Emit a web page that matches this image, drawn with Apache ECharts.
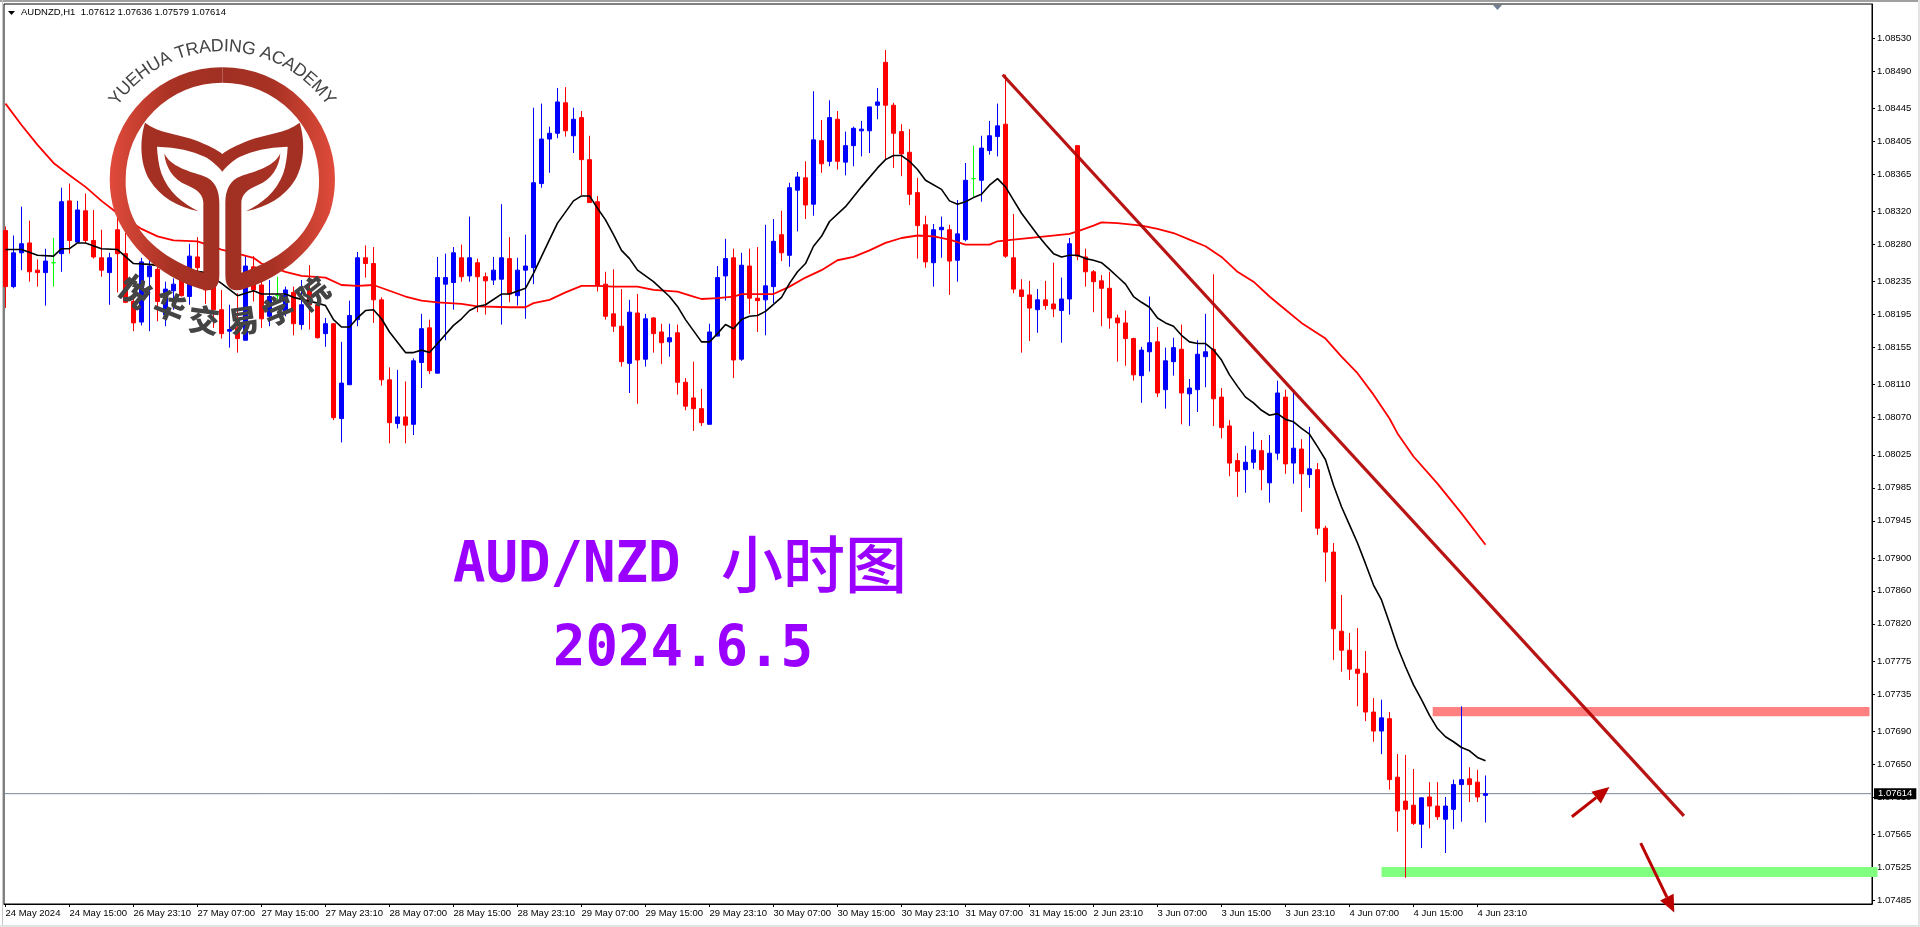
<!DOCTYPE html>
<html>
<head>
<meta charset="utf-8">
<title>AUDNZD H1</title>
<script src="https://cdn.jsdelivr.net/npm/echarts@6/dist/echarts.min.js"></script>
<style>
  html,body{margin:0;padding:0;background:#fff}
  #main{width:1920px;height:927px}
</style>
</head>
<body>
<div id="main"></div>
<script>
const opens=[1.08297,1.08229,1.08270,1.08282,1.08249,1.08246,1.08258,1.08269,1.08333,1.08283,
1.08321,1.08285,1.08264,1.08246,1.08298,1.08269,1.08211,1.08186,1.08241,1.08250,
1.08195,1.08224,1.08241,1.08217,1.08265,1.08235,1.08229,1.08201,1.08175,1.08179,
1.08164,1.08253,1.08231,1.08193,1.08218,1.08199,1.08222,1.08183,1.08225,1.08207,
1.08172,1.08184,1.08069,1.08110,1.08189,1.08264,1.08257,1.08213,1.08116,1.08063,
1.08071,1.08062,1.08137,1.08179,1.08124,1.08232,1.08234,1.08264,1.08242,1.08258,
1.08241,1.08237,1.08238,1.08263,1.08218,1.08249,1.08252,1.08354,1.08408,1.08415,
1.08452,1.08412,1.08434,1.08383,1.08332,1.08232,1.08196,1.08181,1.08136,1.08197,
1.08141,1.08191,1.08174,1.08162,1.08173,1.08113,1.08094,1.08081,1.08062,1.08169,
1.08242,1.08264,1.08141,1.08254,1.08215,1.08213,1.08229,1.08292,1.08267,1.08346,
1.08361,1.08329,1.08406,1.08381,1.08432,1.08380,1.08400,1.08418,1.08418,1.08449,
1.08501,1.08449,1.08417,1.08392,1.08343,1.08304,1.08258,1.08298,1.08298,1.08261,
1.08286,1.08360,1.08358,1.08394,1.08411,1.08426,1.08264,1.08225,1.08219,1.08201,
1.08213,1.08208,1.08200,1.08214,1.08400,1.08265,1.08247,1.08236,1.08227,1.08191,
1.08185,1.08166,1.08121,1.08150,1.08162,1.08104,1.08138,1.08153,1.08099,1.08104,
1.08144,1.08153,1.08095,1.08060,1.08018,1.08007,1.08016,1.08030,1.07991,1.08027,
1.08095,1.08015,1.08032,1.08001,1.08007,1.07936,1.07907,1.07811,1.07788,1.07765,
1.07760,1.07713,1.07690,1.07705,1.07634,1.07605,1.07600,1.07577,1.07610,1.07599,
1.07583,1.07595,1.07625,1.07632,1.07628,1.07612];
const closes=[1.08229,1.08270,1.08281,1.08247,1.08246,1.08260,1.08258,1.08332,1.08285,1.08322,
1.08285,1.08265,1.08249,1.08264,1.08269,1.08210,1.08185,1.08259,1.08254,1.08211,
1.08226,1.08232,1.08218,1.08266,1.08252,1.08225,1.08201,1.08172,1.08177,1.08166,
1.08254,1.08225,1.08190,1.08217,1.08218,1.08225,1.08184,1.08207,1.08207,1.08167,
1.08184,1.08070,1.08112,1.08194,1.08264,1.08257,1.08213,1.08116,1.08064,1.08071,
1.08061,1.08139,1.08178,1.08127,1.08240,1.08240,1.08270,1.08241,1.08264,1.08241,
1.08236,1.08249,1.08264,1.08220,1.08249,1.08254,1.08355,1.08408,1.08415,1.08453,
1.08418,1.08432,1.08383,1.08331,1.08230,1.08193,1.08181,1.08138,1.08198,1.08140,
1.08190,1.08172,1.08161,1.08167,1.08113,1.08084,1.08081,1.08064,1.08174,1.08240,
1.08263,1.08140,1.08255,1.08215,1.08212,1.08230,1.08284,1.08270,1.08349,1.08362,
1.08328,1.08407,1.08378,1.08434,1.08381,1.08400,1.08421,1.08420,1.08447,1.08453,
1.08449,1.08415,1.08390,1.08341,1.08303,1.08259,1.08298,1.08301,1.08260,1.08293,
1.08358,1.08360,1.08397,1.08412,1.08424,1.08266,1.08226,1.08217,1.08203,1.08213,
1.08206,1.08202,1.08214,1.08281,1.08266,1.08247,1.08235,1.08227,1.08191,1.08185,
1.08166,1.08122,1.08152,1.08161,1.08100,1.08139,1.08155,1.08100,1.08106,1.08147,
1.08150,1.08093,1.08058,1.08015,1.08005,1.08016,1.08031,1.08007,1.08027,1.08100,
1.08014,1.08033,1.08002,1.08008,1.07936,1.07907,1.07814,1.07788,1.07765,1.07760,
1.07713,1.07690,1.07706,1.07631,1.07593,1.07595,1.07578,1.07609,1.07599,1.07586,
1.07599,1.07625,1.07631,1.07625,1.07610,1.07614];
const highs=[1.08302,1.08291,1.08326,1.08309,1.08262,1.08275,1.08288,1.08349,1.08354,1.08333,
1.08342,1.08322,1.08298,1.08270,1.08318,1.08294,1.08220,1.08264,1.08262,1.08274,
1.08235,1.08239,1.08254,1.08281,1.08289,1.08245,1.08245,1.08225,1.08207,1.08221,
1.08266,1.08266,1.08254,1.08237,1.08241,1.08229,1.08229,1.08237,1.08255,1.08223,
1.08191,1.08185,1.08162,1.08212,1.08271,1.08279,1.08277,1.08216,1.08131,1.08128,
1.08114,1.08142,1.08196,1.08189,1.08265,1.08269,1.08277,1.08280,1.08314,1.08263,
1.08246,1.08265,1.08329,1.08289,1.08264,1.08292,1.08446,1.08451,1.08423,1.08470,
1.08471,1.08446,1.08442,1.08412,1.08339,1.08247,1.08250,1.08226,1.08213,1.08220,
1.08196,1.08192,1.08184,1.08184,1.08183,1.08118,1.08138,1.08105,1.08184,1.08254,
1.08287,1.08275,1.08270,1.08275,1.08277,1.08304,1.08311,1.08321,1.08355,1.08368,
1.08381,1.08466,1.08431,1.08455,1.08442,1.08417,1.08423,1.08430,1.08447,1.08470,
1.08516,1.08452,1.08426,1.08420,1.08361,1.08315,1.08305,1.08314,1.08304,1.08334,
1.08379,1.08400,1.08412,1.08430,1.08451,1.08486,1.08317,1.08238,1.08236,1.08226,
1.08236,1.08258,1.08240,1.08288,1.08400,1.08275,1.08249,1.08243,1.08247,1.08195,
1.08200,1.08167,1.08156,1.08217,1.08180,1.08155,1.08167,1.08183,1.08117,1.08164,
1.08196,1.08244,1.08106,1.08067,1.08027,1.08036,1.08053,1.08043,1.08049,1.08115,
1.08104,1.08102,1.08044,1.08059,1.08015,1.07939,1.07918,1.07855,1.07809,1.07815,
1.07787,1.07730,1.07728,1.07713,1.07662,1.07661,1.07644,1.07609,1.07628,1.07628,
1.07610,1.07631,1.07720,1.07646,1.07643,1.07636];
const lows=[1.08203,1.08227,1.08249,1.08235,1.08229,1.08206,1.08229,1.08247,1.08269,1.08282,
1.08282,1.08263,1.08241,1.08207,1.08222,1.08209,1.08175,1.08182,1.08175,1.08187,
1.08181,1.08201,1.08217,1.08207,1.08247,1.08208,1.08179,1.08166,1.08155,1.08149,
1.08164,1.08211,1.08179,1.08181,1.08211,1.08193,1.08170,1.08177,1.08177,1.08166,
1.08156,1.08067,1.08040,1.08110,1.08181,1.08240,1.08185,1.08109,1.08039,1.08057,
1.08039,1.08049,1.08106,1.08123,1.08124,1.08164,1.08201,1.08235,1.08235,1.08198,
1.08195,1.08231,1.08183,1.08210,1.08206,1.08190,1.08232,1.08349,1.08367,1.08409,
1.08411,1.08391,1.08340,1.08331,1.08223,1.08189,1.08174,1.08132,1.08100,1.08087,
1.08132,1.08149,1.08135,1.08144,1.08098,1.08079,1.08054,1.08060,1.08062,1.08169,
1.08212,1.08118,1.08139,1.08196,1.08174,1.08170,1.08209,1.08260,1.08253,1.08296,
1.08311,1.08315,1.08367,1.08375,1.08371,1.08364,1.08375,1.08387,1.08391,1.08432,
1.08383,1.08373,1.08363,1.08328,1.08263,1.08252,1.08229,1.08264,1.08219,1.08235,
1.08284,1.08338,1.08332,1.08389,1.08387,1.08264,1.08221,1.08149,1.08163,1.08173,
1.08201,1.08192,1.08161,1.08195,1.08261,1.08229,1.08198,1.08181,1.08178,1.08138,
1.08133,1.08115,1.08088,1.08126,1.08095,1.08081,1.08121,1.08062,1.08060,1.08077,
1.08107,1.08060,1.08045,1.07999,1.07974,1.07979,1.08008,1.07982,1.07967,1.08019,
1.08002,1.07990,1.07956,1.07985,1.07928,1.07871,1.07776,1.07762,1.07752,1.07720,
1.07702,1.07677,1.07662,1.07619,1.07568,1.07512,1.07576,1.07548,1.07572,1.07582,
1.07542,1.07571,1.07580,1.07604,1.07604,1.07579];
const dojiBars=[6,34,121];

const blackBars=[0,2,4,6,7,8,9,10,12,14,16,18,25,27,29,31,32,35,36,39,40,41,42,43,44,45,46,47,48,50,51,52,53,54,56,57,58,59,60,62,63,65,66,68,69,71,72,73,74,75,76,77,78,79,81,83,84,85,87,88,89,90,91,92,93,94,95,97,98,99,100,101,102,103,105,107,109,110,111,112,113,114,115,117,118,119,120,121,122,123,124,125,126,127,128,129,130,131,132,133,134,135,136,137,138,139,140,141,142,143,144,145,146,147,148,149,150,151,152,153,154,155,156,157,158,159,160,161,162,163,164,165,166,167,168,169,170,171,172,173,174,175,176,177,178,179,180,181,182,183,184,185];
const blackMa=[1.08274,1.08274,1.08267,1.08266,1.08275,1.08275,1.08282,1.08282,1.08275,1.08274,1.08257,1.08256,1.08246,1.08233,1.08218,1.08224,1.08220,1.08220,1.08216,1.08209,1.08206,1.08189,1.08180,1.08180,1.08191,1.08200,1.08201,1.08190,1.08174,1.08149,1.08149,1.08152,1.08149,1.08160,1.08182,1.08190,1.08200,1.08205,1.08207,1.08220,1.08220,1.08227,1.08245,1.08286,1.08306,1.08333,1.08339,1.08339,1.08324,1.08310,1.08292,1.08273,1.08263,1.08249,1.08235,1.08217,1.08205,1.08189,1.08162,1.08162,1.08172,1.08183,1.08178,1.08189,1.08193,1.08194,1.08199,1.08216,1.08233,1.08247,1.08257,1.08278,1.08290,1.08308,1.08326,1.08350,1.08373,1.08383,1.08388,1.08388,1.08381,1.08371,1.08358,1.08347,1.08333,1.08329,1.08332,1.08337,1.08341,1.08352,1.08360,1.08350,1.08334,1.08318,1.08305,1.08292,1.08280,1.08269,1.08265,1.08267,1.08267,1.08263,1.08261,1.08258,1.08250,1.08241,1.08232,1.08217,1.08210,1.08204,1.08191,1.08185,1.08181,1.08170,1.08162,1.08160,1.08160,1.08152,1.08140,1.08122,1.08108,1.08095,1.08088,1.08079,1.08073,1.08075,1.08068,1.08065,1.08057,1.08050,1.08035,1.08019,1.07988,1.07962,1.07940,1.07918,1.07893,1.07867,1.07849,1.07821,1.07792,1.07768,1.07746,1.07728,1.07709,1.07693,1.07683,1.07677,1.07670,1.07666,1.07658,1.07654];
const redBars=[0,2,4,6,8,10,12,14,17,19,21,24,27,29,31,32,35,37,40,42,44,46,48,50,52,54,57,59,63,65,66,68,70,72,74,76,79,81,84,86,87,89,91,92,96,98,100,102,104,106,108,110,112,114,116,118,120,123,124,126,130,133,134,136,137,139,142,144,146,148,150,152,154,156,158,160,162,165,167,169,171,173,174,176,179,182,185];
const redMa=[1.08451,1.08425,1.08401,1.08379,1.08364,1.08350,1.08333,1.08318,1.08299,1.08290,1.08285,1.08284,1.08274,1.08269,1.08264,1.08257,1.08247,1.08242,1.08240,1.08231,1.08230,1.08231,1.08224,1.08217,1.08212,1.08210,1.08208,1.08205,1.08204,1.08204,1.08209,1.08213,1.08222,1.08230,1.08230,1.08229,1.08229,1.08225,1.08223,1.08217,1.08214,1.08215,1.08217,1.08220,1.08220,1.08229,1.08240,1.08249,1.08261,1.08265,1.08273,1.08282,1.08288,1.08291,1.08290,1.08286,1.08280,1.08280,1.08284,1.08286,1.08290,1.08293,1.08296,1.08303,1.08307,1.08306,1.08303,1.08299,1.08294,1.08286,1.08278,1.08265,1.08247,1.08235,1.08217,1.08201,1.08185,1.08166,1.08144,1.08124,1.08098,1.08069,1.08051,1.08023,1.07990,1.07954,1.07916];

const timeLabels=["24 May 2024","24 May 15:00","26 May 23:10","27 May 07:00","27 May 15:00","27 May 23:10","28 May 07:00","28 May 15:00","28 May 23:10","29 May 07:00","29 May 15:00","29 May 23:10","30 May 07:00","30 May 15:00","30 May 23:10","31 May 07:00","31 May 15:00","2 Jun 23:10","3 Jun 07:00","3 Jun 15:00","3 Jun 23:10","4 Jun 07:00","4 Jun 15:00","4 Jun 23:10"];
const priceTicks=[1.08530,1.08490,1.08445,1.08405,1.08365,1.08320,1.08280,1.08235,1.08195,1.08155,1.08110,1.08070,1.08025,1.07985,1.07945,1.07900,1.07860,1.07820,1.07775,1.07735,1.07690,1.07650,1.07610,1.07565,1.07525,1.07485];

// hand drawn objects on the chart, in bar index / price
const zones=[[178.4,1.07719,233,1.07708,'#ff8080'],[172,1.07525,234,1.07513,'#80ff80']];
const trendLines=[[124.65,1.08486,209.8,1.07587]];
const arrows=[[195.8,1.07586,200.5,1.07622],[204.4,1.07554,208.6,1.07470]];

const xMin=-0.1875,xMax=233.3125;
const lastClose=closes[closes.length-1];
const tickFont='"Liberation Sans",sans-serif';
const purple='#9900ff';

var candles=opens.map(function(o,i){
  var item={value:[i,o,closes[i],lows[i],highs[i]]};
  if(dojiBars.indexOf(i)>=0){
    item.itemStyle={color:'#00ff00',color0:'#00ff00',borderColor:'#00ff00',borderColor0:'#00ff00',borderColorDoji:'#00ff00'};
  }
  return item;
});

function zoneItem(params,api){
  var a=api.coord([api.value(0),api.value(1)]);
  var b=api.coord([api.value(2),api.value(3)]);
  return {type:'rect',shape:{x:a[0],y:a[1],width:b[0]-a[0],height:b[1]-a[1]},style:{fill:zones[params.dataIndex][4]}};
}
function lineItem(params,api){
  var a=api.coord([api.value(0),api.value(1)]);
  var b=api.coord([api.value(2),api.value(3)]);
  return {type:'line',shape:{x1:a[0],y1:a[1],x2:b[0],y2:b[1]},style:{stroke:'#b30000',lineWidth:3.2,opacity:.92}};
}
function arrowItem(params,api){
  var a=api.coord([api.value(0),api.value(1)]);
  var b=api.coord([api.value(2),api.value(3)]);
  var ang=Math.atan2(b[1]-a[1],b[0]-a[0]),len=17,half=7.5;
  var mx=b[0]-Math.cos(ang)*len,my=b[1]-Math.sin(ang)*len;
  return {type:'group',children:[
    {type:'line',shape:{x1:a[0],y1:a[1],x2:mx,y2:my},style:{stroke:'#bb0000',lineWidth:3}},
    {type:'polygon',shape:{points:[[b[0],b[1]],[mx-Math.sin(ang)*half,my+Math.cos(ang)*half],[mx+Math.sin(ang)*half,my-Math.cos(ang)*half]]},style:{fill:'#bb0000'}}
  ]};
}

// logo, drawn in a 3x space and scaled down
var ringLeft='M667,202 A336,336 0 0 0 345,640 C400,770 510,840 600,866 Q658,885 658,825 L658,610 C658,570 645,540 610,528 C570,515 510,500 493,460 C495,500 520,540 560,555 C595,570 610,585 610,610 L610,818 C500,780 420,720 390,630 Q375,580 377,538 A290,290 0 0 1 667,248 Z';
var ringRight='M667,202 A336,336 0 0 1 989,640 C934,770 824,840 734,866 Q676,885 676,825 L676,610 C676,570 689,540 724,528 C764,515 824,500 841,460 C839,500 814,540 774,555 C739,570 724,585 724,610 L724,818 C834,780 914,720 944,630 Q959,580 957,538 A290,290 0 0 0 667,248 Z';
var tail='M435,368 C475,400 540,402 590,422 C625,436 650,448 667,462 C684,448 709,436 744,422 C794,402 859,400 899,368 C915,420 915,490 885,540 C855,590 800,622 738,634 C785,612 830,575 850,520 C858,495 862,465 863,440 C800,442 760,452 720,470 C700,480 680,498 667,515 C654,498 634,480 614,470 C574,452 534,442 471,440 C472,465 476,495 484,520 C504,575 549,612 596,634 C534,622 479,590 449,540 C419,490 419,420 435,368 Z';

function logoItem(){
  return {type:'group',scaleX:1/3,scaleY:1/3,children:[
    {type:'path',shape:{pathData:ringLeft},style:{fill:new echarts.graphic.LinearGradient(0,0,1,0,[{offset:0,color:'#e04b3b'},{offset:.55,color:'#a83224'},{offset:1,color:'#a03023'}])}},
    {type:'path',shape:{pathData:ringRight},style:{fill:new echarts.graphic.LinearGradient(0,0,1,0,[{offset:0,color:'#a03023'},{offset:.45,color:'#a83224'},{offset:1,color:'#e04b3b'}])}},
    {type:'path',shape:{pathData:tail},style:{fill:'#a33022'}}
  ]};
}

var logoCx=222.3,logoCy=179.3;
var logoGraphic=[];
var arcText='YUEHUA TRADING ACADEMY';
var arcFont='17.8px "Liberation Sans"';
var arcCtx=document.createElement('canvas').getContext('2d');
arcCtx.font=arcFont;
var arcTotal=arcCtx.measureText(arcText).width,arcPos=0,arcR=133;
var arcSpan=arcTotal+arcText.length*0.2;
for(var c=0;c<arcText.length;c++){
  var w=arcCtx.measureText(arcText[c]).width+0.2;
  var th=(arcPos+w/2-arcSpan/2)/arcR;
  arcPos+=w;
  logoGraphic.push({type:'text',z:11,x:logoCx+Math.sin(th)*arcR,y:logoCy-Math.cos(th)*arcR,rotation:-th,
    style:{text:arcText[c],font:arcFont,fill:'#444',align:'center',verticalAlign:'middle'}});
}
var cnChars=[['悦',135,291.5,38],['华',170,306,22],['交',204,320,7.4],['易',243,320.5,-8.5],['学',278.5,310,-23],['院',313,293,-38.6]];
cnChars.forEach(function(ch){
  logoGraphic.push({type:'text',z:11,x:ch[1],y:ch[2],rotation:-ch[3]*Math.PI/180,
    style:{text:ch[0],font:'900 31px "Noto Sans CJK SC"',fill:'#444',align:'center',verticalAlign:'middle'}});
});

var chrome=[
  {type:'rect',z:0,shape:{x:0,y:0,width:1920,height:2},style:{fill:'#a0a0a0'}},
  {type:'rect',z:0,shape:{x:2,y:0,width:1,height:927},style:{fill:'#c8c8c8'}},
  {type:'rect',z:0,shape:{x:1918,y:0,width:2,height:927},style:{fill:'#e4e4e4'}},
  {type:'rect',z:0,shape:{x:0,y:925,width:1920,height:2},style:{fill:'#e4e4e4'}},
  {type:'polygon',z:6,shape:{points:[[1493,5],[1502,5],[1497.5,10]]},style:{fill:'#708090'}},
  {type:'polygon',z:6,shape:{points:[[8,11],[15,11],[11.5,15]]},style:{fill:'#000'}},
  {type:'text',z:6,x:21,y:12.5,style:{text:'AUDNZD,H1  1.07612 1.07636 1.07579 1.07614',font:'9.5px '+tickFont,fill:'#000',verticalAlign:'middle'}},
  {type:'text',z:9,x:453,y:596,scaleY:1.06,style:{text:'AUD/NZD',font:'bold 54px "DejaVu Sans Mono"',fill:purple,verticalAlign:'bottom'}},
  {type:'text',z:9,x:721,y:564,style:{text:'小时图',font:'500 62px "Noto Sans CJK SC"',fill:purple,verticalAlign:'middle'}},
  {type:'text',z:9,x:553,y:680,scaleY:1.06,style:{text:'2024.6.5',font:'bold 54px "DejaVu Sans Mono"',fill:purple,verticalAlign:'bottom'}}
];

var chart=echarts.init(document.getElementById('main'));
chart.setOption({
  animation:false,
  backgroundColor:'#fff',
  grid:{left:4,right:48,top:4,bottom:23,show:true,borderColor:'#000',borderWidth:1},
  xAxis:{
    type:'value',min:xMin,max:xMax,
    splitLine:{show:false},
    axisLine:{onZero:false,lineStyle:{color:'#000'}},
    axisTick:{length:3,lineStyle:{color:'#000'},customValues:timeLabels.map(function(t,i){return i*8})},
    axisLabel:{
      customValues:timeLabels.map(function(t,i){return i*8}),
      formatter:function(v){return timeLabels[v/8]},
      color:'#000',fontFamily:tickFont,fontSize:9.5,align:'left',margin:4
    }
  },
  yAxis:{
    type:'value',position:'right',min:1.074802,max:1.085718,
    splitLine:{show:false},
    axisLine:{onZero:false,show:true,lineStyle:{color:'#000'}},
    axisTick:{show:true,length:3,lineStyle:{color:'#000'},customValues:priceTicks},
    axisLabel:{
      customValues:priceTicks,
      formatter:function(v){return v.toFixed(5)},
      color:'#000',fontFamily:tickFont,fontSize:9.5,align:'left',margin:5
    }
  },
  series:[
    {
      type:'custom',name:'zones',z:1,silent:true,clip:false,
      renderItem:zoneItem,
      encode:{x:[0,2],y:[1,3]},
      data:zones.map(function(z){return z.slice(0,4)})
    },
    {
      type:'line',name:'last price',z:1,silent:true,showSymbol:false,
      lineStyle:{color:'#778899',width:1},
      endLabel:{show:true,distance:2,formatter:function(){return lastClose.toFixed(5)},
        backgroundColor:'#000',color:'#fff',fontFamily:tickFont,fontSize:9.5,padding:[1,4,0,4]},
      data:[[xMin,lastClose],[xMax,lastClose]]
    },
    {
      type:'candlestick',name:'AUDNZD',z:2,barWidth:5,
      encode:{x:0,y:[1,2,3,4]},
      itemStyle:{color:'#0000ff',color0:'#ff0000',borderColor:'#0000ff',borderColor0:'#ff0000',borderWidth:1},
      data:candles
    },
    {type:'line',name:'MA slow',z:3,showSymbol:false,silent:true,lineStyle:{color:'#ff0000',width:1.8},
      data:redBars.map(function(b,i){return [b,redMa[i]]})},
    {type:'line',name:'MA fast',z:3,showSymbol:false,silent:true,lineStyle:{color:'#000',width:1.6},
      data:blackBars.map(function(b,i){return [b,blackMa[i]]})},
    {type:'custom',name:'trend',z:4,silent:true,clip:false,renderItem:lineItem,encode:{x:[0,2],y:[1,3]},data:trendLines},
    {type:'custom',name:'arrows',z:4,silent:true,clip:false,renderItem:arrowItem,encode:{x:[0,2],y:[1,3]},data:arrows},
    {type:'custom',name:'logo',z:10,silent:true,coordinateSystem:'none',renderItem:logoItem,data:[[0]]}
  ],
  graphic:{elements:chrome.concat(logoGraphic)}
});
</script>
</body>
</html>
